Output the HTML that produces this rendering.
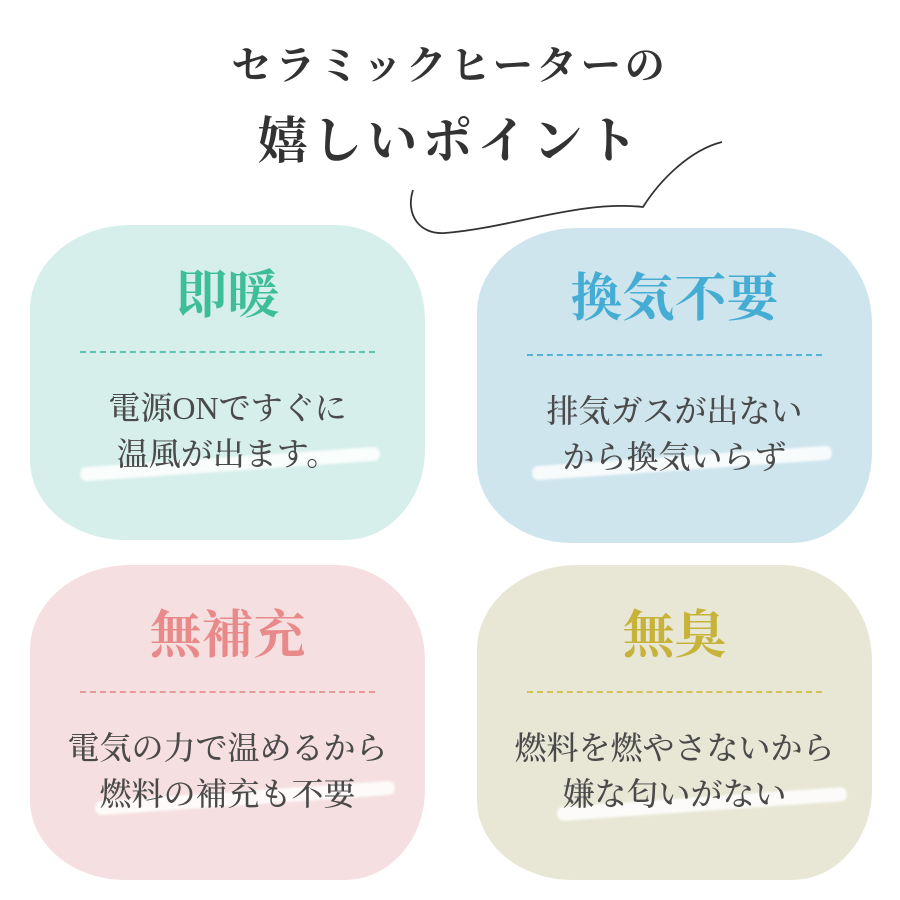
<!DOCTYPE html>
<html><head><meta charset="utf-8"><style>
body{margin:0;width:900px;height:900px;background:#fff;position:relative;overflow:hidden;font-family:"Liberation Serif","Noto Serif CJK SC",serif;color:#333}
.t{position:absolute;left:0;width:900px;text-align:center;font-weight:bold}
.tile{position:absolute;width:395px;height:315px}
.tile .bg{position:absolute;inset:0;border-radius:100px 90px 80px 95px / 85px 95px 90px 80px}
.h{position:absolute;left:0;right:0;text-align:center;font-size:52px;font-weight:bold;top:42px;line-height:60px}
.dash{position:absolute;left:50px;right:50px;top:126px;border-top:2px dashed}
.b{position:absolute;left:0;right:0;text-align:center;font-size:32px;color:#4a4a4a;line-height:46px;top:160px;font-weight:500}
.br{position:absolute;height:14px;background:rgba(255,255,255,.85);transform:rotate(-4deg);border-radius:6px;filter:blur(1px)}
</style></head><body>
<div class="t" style="top:38px;font-size:40px;letter-spacing:4px;line-height:56px">セラミックヒーターの</div>
<div class="t" style="top:110px;font-size:50px;letter-spacing:5px;line-height:62px">嬉しいポイント</div>
<svg style="position:absolute;left:0;top:0" width="900" height="900"><path d="M413 190 C405 215,420 235,445 233 C510 228,580 200,643 207 C660 180,690 150,722 142" fill="none" stroke="#333" stroke-width="1.8"/></svg>

<div class="tile" style="left:30px;top:225px"><div class="bg" style="background:#d6efea"></div>
<div class="h" style="color:#3dbd98">即暖</div><div class="dash" style="border-color:#5cc4b0"></div>
<div class="br" style="left:50px;top:232px;width:300px"></div>
<div class="b">電源ONですぐに<br>温風が出ます。</div></div>

<div class="tile" style="left:477px;top:228px"><div class="bg" style="background:#cfe5ee"></div>
<div class="h" style="color:#45acd3">換気不要</div><div class="dash" style="border-color:#55b3d6"></div>
<div class="br" style="left:55px;top:228px;width:300px"></div>
<div class="b">排気ガスが出ない<br>から換気いらず</div></div>

<div class="tile" style="left:30px;top:565px"><div class="bg" style="background:#f6dfe0"></div>
<div class="h" style="color:#e88a8a">無補充</div><div class="dash" style="border-color:#e89a9a"></div>
<div class="br" style="left:65px;top:226px;width:300px"></div>
<div class="b">電気の力で温めるから<br>燃料の補充も不要</div></div>

<div class="tile" style="left:477px;top:565px"><div class="bg" style="background:#e8e7d6"></div>
<div class="h" style="color:#c7b33a">無臭</div><div class="dash" style="border-color:#d2c253"></div>
<div class="br" style="left:80px;top:232px;width:290px"></div>
<div class="b">燃料を燃やさないから<br>嫌な匂いがない</div></div>
</body></html>
